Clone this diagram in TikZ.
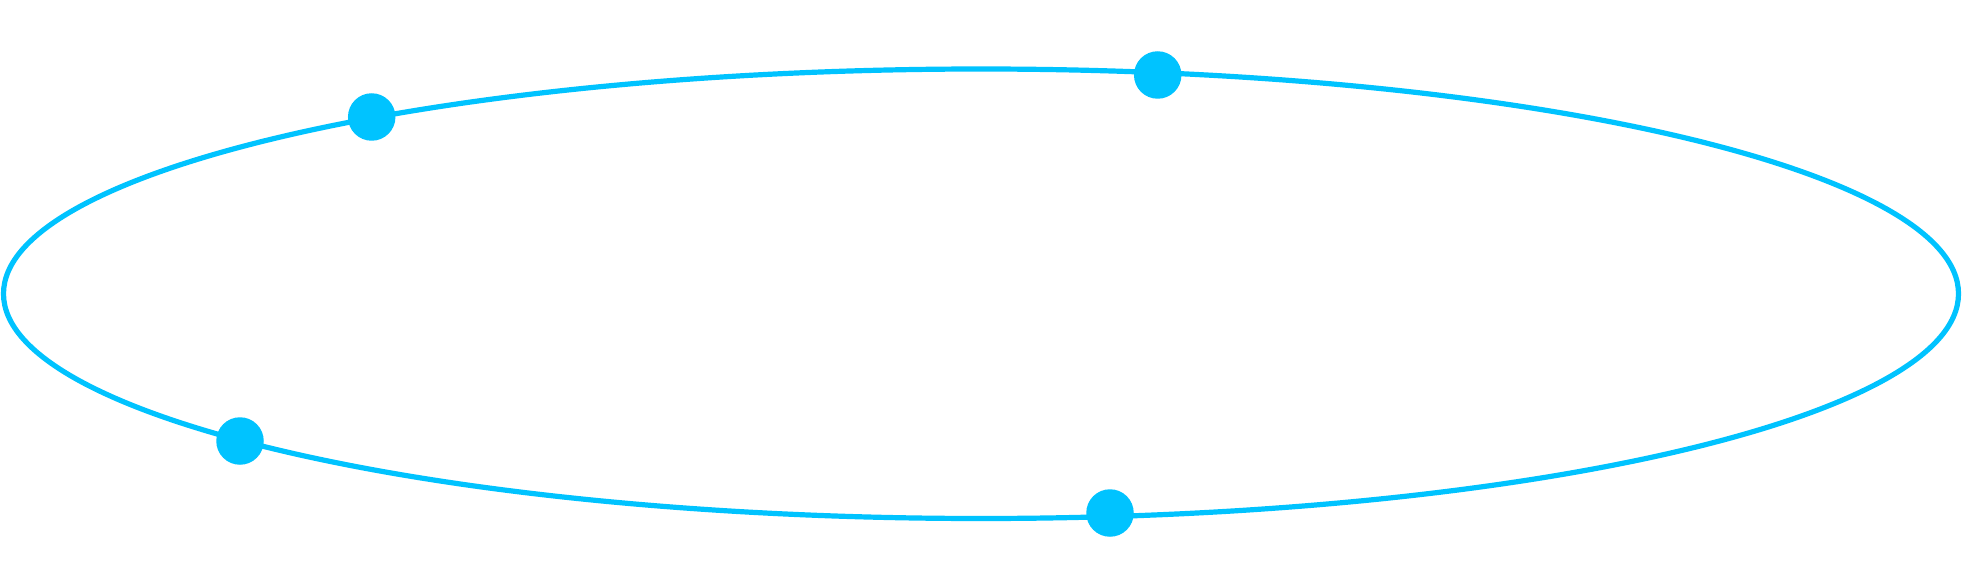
\documentclass[tikz,border=0pt]{standalone}
\definecolor{skyline}{HTML}{00C3FF}
\tikzset{
  orbit/.style={draw=skyline, line width=5.2pt},
  planet/.style={circle, fill=skyline, inner sep=0pt, minimum size=47.5pt}
}
\begin{document}
\begin{tikzpicture}[x=1pt,y=-1pt]
  \useasboundingbox (0,0) rectangle (1962,588);
  \fill[white] (0,0) rectangle (1962,588);
  \draw[orbit] (981,293.75) ellipse [x radius=977.5, y radius=224.75];
  \node[planet] (p1) at (371.7,117) {};
  \node[planet] (p2) at (1157.7,75) {};
  \node[planet] (p3) at (240,441) {};
  \node[planet] (p4) at (1110,513) {};
\end{tikzpicture}
\end{document}
